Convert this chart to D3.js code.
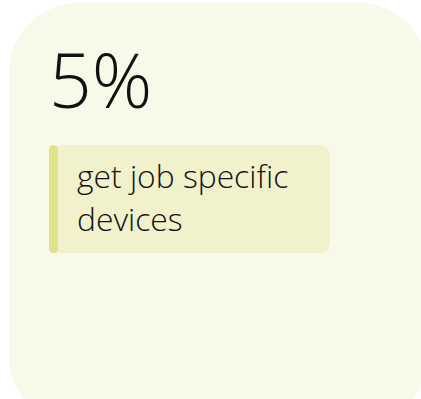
<!DOCTYPE html>
<html>
<head>
<meta charset="utf-8">
<script src="https://cdn.jsdelivr.net/npm/d3@7"></script>
<style>
  html, body { margin: 0; padding: 0; background: #ffffff; overflow: hidden; }
  svg { display: block; }
</style>
</head>
<body>
<svg id="card" width="421" height="399"></svg>
<script>
// Stat card: headline share plus a short description.
const values = [5];
const unit = ["%"];
const labelLines = [["get job specific", "devices"]];

const colors = {
  card: "#f8f9e8",
  note: "#f1f2cc",
  accent: "#e1e38a",
  text: "#111111"
};

const svg = d3.select("#card");

// Card background (extends past the viewport on the right and bottom).
svg.append("rect")
  .attr("x", 9).attr("y", 3)
  .attr("width", 419).attr("height", 423)
  .attr("rx", 70).attr("ry", 70)
  .attr("fill", colors.card);

// Headline number
svg.selectAll("text.value")
  .data(values)
  .join("text")
  .attr("class", "value")
  .attr("x", 49)
  .attr("y", 108)
  .attr("font-family", "'Open Sans', sans-serif")
  .attr("font-weight", 300)
  .attr("font-size", 75)
  .attr("fill", colors.text)
  .text((d, i) => d3.format("d")(d) + unit[i]);

// Description box
const note = svg.append("g");
note.append("rect")
  .attr("x", 49).attr("y", 145)
  .attr("width", 281).attr("height", 108)
  .attr("rx", 11).attr("ry", 11)
  .attr("fill", colors.note);
note.append("rect")
  .attr("x", 49).attr("y", 145)
  .attr("width", 9).attr("height", 108)
  .attr("rx", 4.5).attr("ry", 4.5)
  .attr("fill", colors.accent);

note.append("text")
  .attr("x", 77)
  .attr("font-family", "'Open Sans', sans-serif")
  .attr("font-weight", 300)
  .attr("font-size", 31.8)
  .attr("fill", colors.text)
  .selectAll("tspan")
  .data(labelLines[0])
  .join("tspan")
  .attr("x", 77)
  .attr("y", (d, i) => 188 + i * 43)
  .text(d => d);
</script>
</body>
</html>
